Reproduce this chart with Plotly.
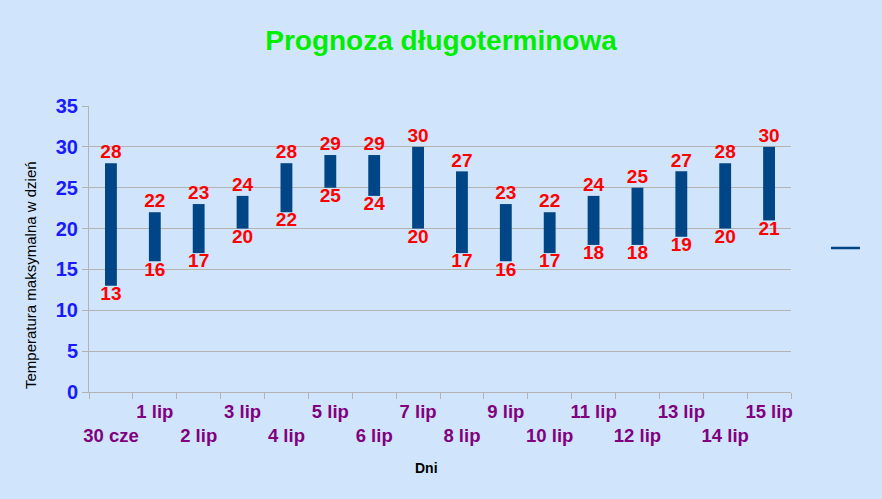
import plotly.graph_objects as go

days = ["30 cze", "1 lip", "2 lip", "3 lip", "4 lip", "5 lip", "6 lip", "7 lip",
        "8 lip", "9 lip", "10 lip", "11 lip", "12 lip", "13 lip", "14 lip", "15 lip"]
t_max = [28, 22, 23, 24, 28, 29, 29, 30, 27, 23, 22, 24, 25, 27, 28, 30]
t_min = [13, 16, 17, 20, 22, 25, 24, 20, 17, 16, 17, 18, 18, 19, 20, 21]
y_ticks = [0, 5, 10, 15, 20, 25, 30, 35]

tick_text = [("<br>" + d) if i % 2 == 0 else d for i, d in enumerate(days)]

BAR = "#004586"
RED = "#ff0000"

fig = go.Figure()
fig.add_trace(go.Bar(
    x=days, y=[a - b for a, b in zip(t_max, t_min)], base=t_min,
    marker=dict(color=BAR, line=dict(width=0)), width=0.27,
    showlegend=False, hoverinfo="skip"))
fig.add_trace(go.Scatter(
    x=days, y=t_max, mode="text", text=[str(v) for v in t_max],
    textposition="top center",
    textfont=dict(family="Liberation Sans", size=19, color=RED, weight="bold"),
    showlegend=False, hoverinfo="skip", cliponaxis=False))
fig.add_trace(go.Scatter(
    x=days, y=t_min, mode="text", text=[str(v) for v in t_min],
    textposition="bottom center",
    textfont=dict(family="Liberation Sans", size=19, color=RED, weight="bold"),
    showlegend=False, hoverinfo="skip", cliponaxis=False))

fig.update_layout(
    width=882, height=499,
    margin=dict(l=89, r=91, t=106, b=107),
    paper_bgcolor="#d0e5fb", plot_bgcolor="rgba(0,0,0,0)",
    title=dict(text="<b>Prognoza długoterminowa</b>", x=0.5, xanchor="center",
               y=0.92, yanchor="middle",
               font=dict(family="Liberation Sans", size=28, color="#00ee00")),
    xaxis=dict(
        type="category", categoryorder="array", categoryarray=days,
        tickmode="array", tickvals=days, ticktext=tick_text, tickangle=0,
        tickson="boundaries", ticks="outside", ticklen=6, tickcolor="#b3b3b3",
        showline=True, linecolor="#b3b3b3", linewidth=1, showgrid=False,
        ticklabelstandoff=3,
        tickfont=dict(family="Liberation Sans", size=18.5, color="#800080", weight="bold"),
        range=[-0.5, 15.5], fixedrange=True, automargin=False),
    yaxis=dict(
        range=[0, 35], tickmode="array", tickvals=y_ticks,
        ticks="outside", ticklen=6, tickcolor="#b3b3b3",
        showline=True, linecolor="#b3b3b3", linewidth=1,
        showgrid=True, gridcolor="#b3b3b3", gridwidth=1, zeroline=False,
        tickfont=dict(family="Liberation Sans", size=20, color="#1a1aff", weight="bold"),
        fixedrange=True, automargin=False),
    bargap=0.7,
    annotations=[
        dict(text="<b>Dni</b>", xref="paper", yref="paper",
             x=(426 - 89) / 702, y=-(468 - 392) / 286, showarrow=False,
             xanchor="center", yanchor="middle",
             font=dict(family="Liberation Sans", size=14, color="#000000")),
        dict(text="Temperatura maksymalna w dzień", xref="paper", yref="paper",
             x=-(89 - 30) / 702, y=(392 - 275) / 286, showarrow=False, textangle=-90,
             xanchor="center", yanchor="middle",
             font=dict(family="Liberation Sans", size=15, color="#000000")),
    ],
    shapes=[dict(type="line", xref="paper", yref="paper",
                 x0=(831 - 89) / 702, x1=(860 - 89) / 702, y0=(392 - 248) / 286, y1=(392 - 248) / 286,
                 line=dict(color=BAR, width=2.5))],
)

fig.write_html("out.html", config={"displayModeBar": False},
               post_script="document.body.style.margin='0';")
